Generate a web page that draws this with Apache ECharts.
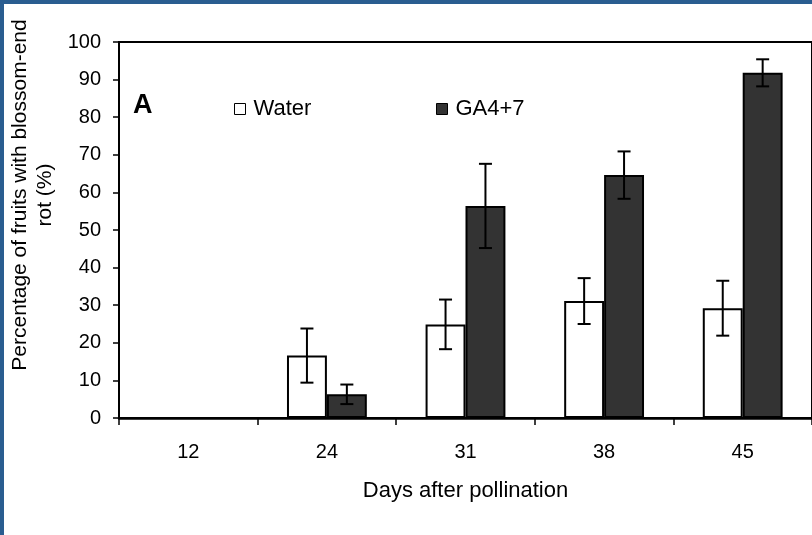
<!DOCTYPE html>
<html>
<head>
<meta charset="utf-8">
<script src="https://cdn.jsdelivr.net/npm/echarts@6/dist/echarts.min.js"></script>
<style>
  html, body { margin: 0; padding: 0; background: #fff; }
  #chart { width: 812px; height: 535px; }
</style>
</head>
<body>
<div id="chart"></div>
<script>
// Days after pollination
const days = ['12', '24', '31', '38', '45'];
// Percentage of fruits with blossom-end rot, with error bar half-widths
const water = [0, 16.6, 24.9, 31.1, 29.2];
const waterErr = [0, 7.2, 6.6, 6.1, 7.3];
const ga = [0, 6.3, 56.4, 64.6, 91.8];
const gaErr = [0, 2.6, 11.2, 6.3, 3.6];
const yTicks = { min: 0, max: 100, interval: 10 };

const FONT = 'Liberation Sans, Arial, sans-serif';
const CAT_GAP = 0.424;

function errData(vals, errs) {
  return vals.map((v, i) => [i, v - errs[i], v + errs[i], errs[i]]);
}

function errRenderer(side) {
  return function (params, api) {
    if (api.value(3) === 0) return null;
    const xi = api.value(0);
    const lo = api.coord([xi, api.value(1)]);
    const hi = api.coord([xi, api.value(2)]);
    const catW = api.size([1, 0])[0];
    const barW = catW * (1 - CAT_GAP) / 2;
    const x = lo[0] + side * barW / 2;
    const cap = 6.5;
    const style = { stroke: '#000', lineWidth: 2 };
    return {
      type: 'group',
      children: [
        { type: 'line', shape: { x1: x, y1: hi[1], x2: x, y2: lo[1] }, style },
        { type: 'line', shape: { x1: x - cap, y1: hi[1], x2: x + cap, y2: hi[1] }, style },
        { type: 'line', shape: { x1: x - cap, y1: lo[1], x2: x + cap, y2: lo[1] }, style }
      ]
    };
  };
}

const legendBase = {
  icon: 'rect', itemWidth: 11, itemHeight: 11, itemGap: 0, selectedMode: false,
  textStyle: { fontSize: 22, color: '#000', fontFamily: FONT, padding: [0, 0, 0, 3] },
  itemStyle: { borderWidth: 1, borderColor: '#000' }
};

const chart = echarts.init(document.getElementById('chart'));
chart.setOption({
  animation: false,
  backgroundColor: '#fff',
  textStyle: { fontFamily: FONT },
  grid: {
    left: 119, top: 42, width: 695, height: 376,
    show: true, borderColor: '#000', borderWidth: 2, backgroundColor: 'transparent'
  },
  legend: [
    Object.assign({ data: ['Water'], left: 229, top: 93 }, legendBase),
    Object.assign({ data: ['GA4+7'], left: 431, top: 93 }, legendBase)
  ],
  xAxis: {
    type: 'category',
    data: days,
    name: 'Days after pollination',
    nameLocation: 'middle',
    nameGap: 62,
    nameTextStyle: { fontSize: 22, color: '#000', fontFamily: FONT },
    axisLine: { lineStyle: { color: '#000', width: 2.5 } },
    axisTick: { show: true, length: 7, lineStyle: { color: '#000', width: 1.5 } },
    axisLabel: { fontSize: 20, color: '#000', margin: 24, fontFamily: FONT },
    splitLine: { show: false }
  },
  yAxis: {
    type: 'value',
    min: yTicks.min, max: yTicks.max, interval: yTicks.interval,
    axisLine: { show: true, lineStyle: { color: '#000', width: 2 } },
    axisTick: { show: true, length: 6, lineStyle: { color: '#000', width: 1.5 } },
    axisLabel: { fontSize: 20, color: '#000', margin: 18, fontFamily: FONT },
    splitLine: { show: false }
  },
  graphic: [
    { type: 'rect', shape: { x: 0, y: 0, width: 812, height: 4 }, style: { fill: '#2a5d90' }, z: 100 },
    { type: 'rect', shape: { x: 0, y: 0, width: 4, height: 535 }, style: { fill: '#2a5d90' }, z: 100 },
    {
      type: 'text', x: 33, y: 195, rotation: Math.PI / 2,
      style: {
        text: 'Percentage of fruits with blossom-end\nrot (%)',
        font: '21px ' + FONT, fill: '#000', align: 'center', verticalAlign: 'middle', lineHeight: 25
      }
    },
    {
      type: 'text', x: 133, y: 106,
      style: { text: 'A', font: 'bold 27px ' + FONT, fill: '#000', align: 'left', verticalAlign: 'middle' }
    }
  ],
  series: [
    {
      name: 'Water', type: 'bar', data: water, barGap: '0%', barCategoryGap: (CAT_GAP * 100) + '%',
      itemStyle: { color: '#fff', borderColor: '#000', borderWidth: 2 }
    },
    {
      name: 'GA4+7', type: 'bar', data: ga, barGap: '0%', barCategoryGap: (CAT_GAP * 100) + '%',
      itemStyle: { color: '#333', borderColor: '#000', borderWidth: 2 }
    },
    {
      type: 'custom', renderItem: errRenderer(-1), data: errData(water, waterErr), z: 10,
      encode: { x: 0, y: [1, 2] }
    },
    {
      type: 'custom', renderItem: errRenderer(1), data: errData(ga, gaErr), z: 10,
      encode: { x: 0, y: [1, 2] }
    }
  ]
});
</script>
</body>
</html>
